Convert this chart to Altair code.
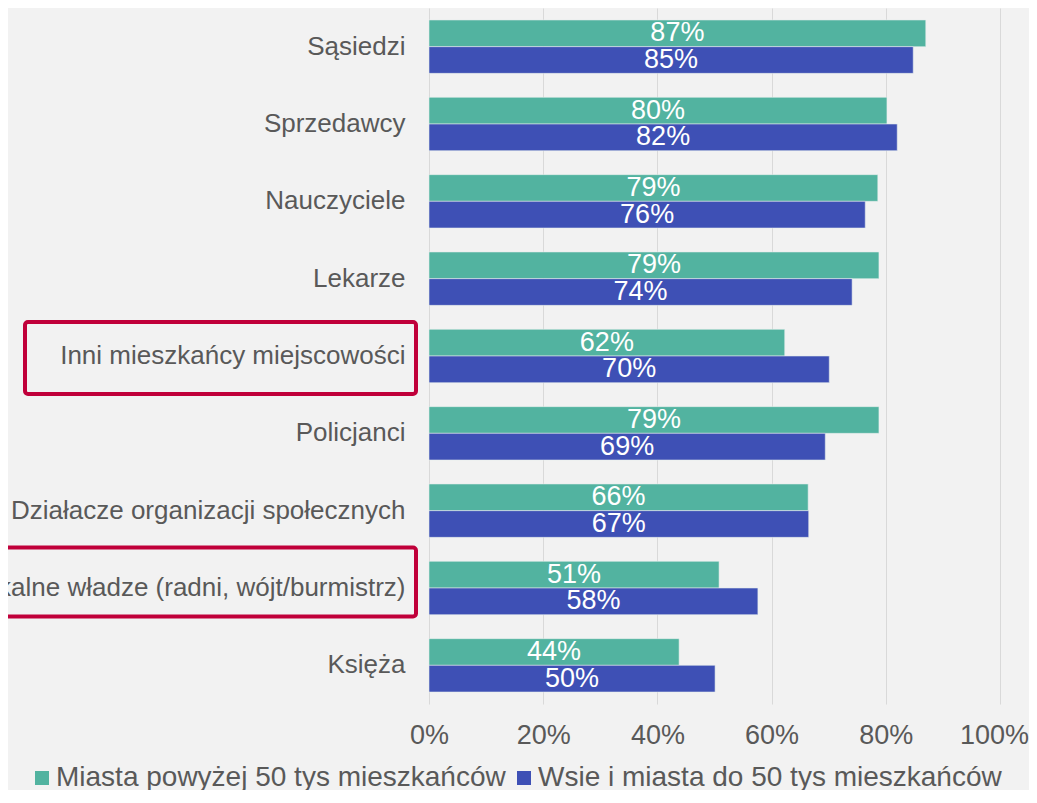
import altair as alt
import pandas as pd

FONT = "Liberation Sans"
GREEN = "#52B3A0"
BLUE = "#3E50B5"
RED = "#C0003A"
TEXT_GRAY = "#595959"

categories = [
    "Sąsiedzi",
    "Sprzedawcy",
    "Nauczyciele",
    "Lekarze",
    "Inni mieszkańcy miejscowości",
    "Policjanci",
    "Działacze organizacji społecznych",
    "Lokalne władze (radni, wójt/burmistrz)",
    "Księża",
]
series = ["Miasta powyżej 50 tys mieszkańców", "Wsie i miasta do 50 tys mieszkańców"]
big_city = [0.870, 0.802, 0.786, 0.788, 0.623, 0.788, 0.664, 0.508, 0.438]
small_town = [0.848, 0.820, 0.764, 0.741, 0.701, 0.694, 0.665, 0.576, 0.501]
big_city_labels = ["87%", "80%", "79%", "79%", "62%", "79%", "66%", "51%", "44%"]
small_town_labels = ["85%", "82%", "76%", "74%", "70%", "69%", "67%", "58%", "50%"]
x_ticks = [0, 0.2, 0.4, 0.6, 0.8, 1.0]
highlighted = ["Inni mieszkańcy miejscowości", "Lokalne władze (radni, wójt/burmistrz)"]

rows = []
for i, c in enumerate(categories):
    rows.append({"category": c, "series": series[0], "value": big_city[i], "label": big_city_labels[i]})
    rows.append({"category": c, "series": series[1], "value": small_town[i], "label": small_town_labels[i]})
df = pd.DataFrame(rows)

y_enc = alt.Y(
    "category:N",
    sort=categories,
    scale=alt.Scale(paddingInner=0.31, paddingOuter=0.155),
    axis=alt.Axis(
        title=None, domain=False, ticks=False, grid=False,
        labelFontSize=26, labelColor=TEXT_GRAY, labelPadding=24,
        labelLimit=0, labelFont=FONT,
    ),
)
y_plain = alt.Y("category:N", sort=categories)
yoff = alt.YOffset("series:N", sort=series, scale=alt.Scale(paddingInner=0, paddingOuter=0))
x_enc = alt.X(
    "value:Q",
    scale=alt.Scale(domain=[0, 1], nice=False),
    axis=alt.Axis(
        title=None, format="%", values=x_ticks, grid=True, gridColor="#d9d9d9",
        gridWidth=1, domain=False, ticks=False, labelFontSize=27,
        labelColor=TEXT_GRAY, labelPadding=18, labelFlush=False, labelFont=FONT,
        labelOffset={"condition": {"test": "datum.value == 1", "value": -6}, "value": 0},
    ),
)
color = alt.Color(
    "series:N",
    sort=series,
    scale=alt.Scale(domain=series, range=[GREEN, BLUE]),
    legend=alt.Legend(
        title=None, orient="none", direction="horizontal", legendX=-405, legendY=756,
        symbolType="square", symbolSize=196, symbolStrokeWidth=0, symbolOffset=4,
        labelFontSize=28, labelColor=TEXT_GRAY, labelFont=FONT, labelOffset=0,
        columnPadding=0, labelLimit=0, padding=0,
    ),
)

bars = alt.Chart(df).mark_bar(stroke="#e6efed", strokeWidth=0.8, strokeOpacity=0.7).encode(
    y=y_enc, yOffset=yoff, x=x_enc, color=color
)

texts = alt.Chart(df).transform_calculate(mid="datum.value / 2").mark_text(
    color="white", fontSize=27, font=FONT, align="center", baseline="middle"
).encode(y=y_plain, yOffset=yoff, x=alt.X("mid:Q"), text="label:N")

box1 = alt.Chart(pd.DataFrame({"category": [highlighted[0]]})).mark_bar(
    fill="white", fillOpacity=0, stroke=RED, strokeWidth=4, cornerRadius=3,
    height=alt.RelativeBandSize(band=1.35), yOffset=2,
).encode(y=y_plain, x=alt.value(-404), x2=alt.value(-13))

box2 = alt.Chart(pd.DataFrame({"category": [highlighted[1]]})).mark_bar(
    fill="white", fillOpacity=0, stroke=RED, strokeWidth=4, cornerRadius=3,
    height=alt.RelativeBandSize(band=1.295), yOffset=-6,
).encode(y=y_plain, x=alt.value(-480), x2=alt.value(-13))

chart = alt.layer(bars, texts, box1, box2).properties(
    width=571,
    height=696,
    autosize=alt.AutoSizeParams(type="none"),
    padding={"left": 421, "top": 0, "right": 29, "bottom": 86},
    background="#f2f2f2",
).configure_view(stroke=None)

chart.save("out.html", embed_options={"renderer": "svg", "actions": False})
